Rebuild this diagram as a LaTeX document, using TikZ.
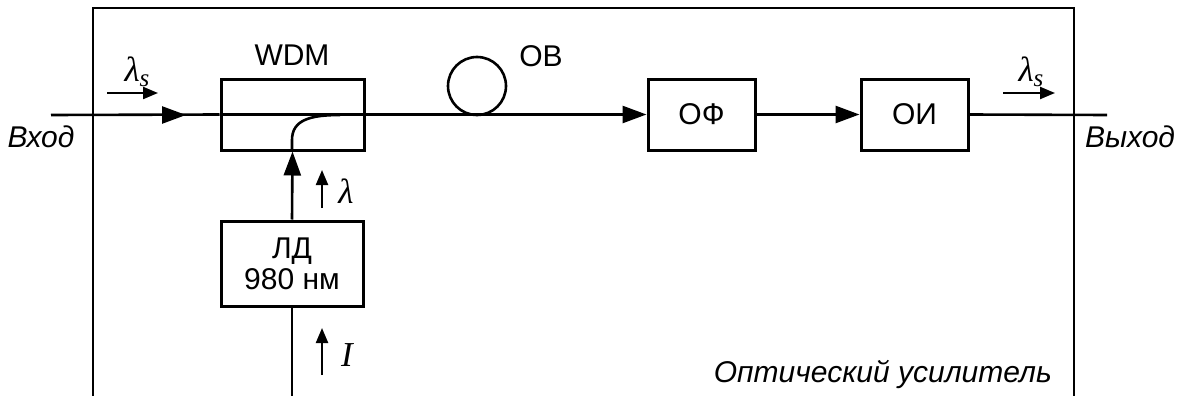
\documentclass[tikz,border=0pt]{standalone}
\usepackage{fontspec}
\setmainfont{Liberation Sans}
\newfontfamily\tms{Liberation Serif}
\usetikzlibrary{arrows.meta}
\tikzset{
  blk/.style={draw, line width=3pt, minimum width=143pt, minimum height=71pt, inner sep=0pt, font=\fontsize{30}{34}\selectfont},
  fib/.style={line width=2.6pt},
  frm/.style={line width=1.8pt},
  big/.style={fib, -{Triangle[length=24pt,width=17pt]}},
  sml/.style={line width=2.2pt, -{Triangle[length=15pt,width=12pt]}},
  lbl/.style={inner sep=0pt, font=\fontsize{30}{34}\selectfont},
  ilbl/.style={inner sep=0pt, font=\fontsize{30}{34}\selectfont\itshape},
  gr/.style={inner sep=0pt, font=\fontsize{35}{38}\selectfont\tms\itshape}
}
\newcommand{\lams}{λ\raisebox{-0.3ex}{\fontsize{25}{26}\selectfont s}}
\begin{document}
\begin{tikzpicture}[x=1pt,y=-1pt]
\useasboundingbox (0,0) rectangle (1183,396);
% frame
\coordinate (fTL) at (93,8);
\coordinate (fTR) at (1074,8);
\coordinate (fBL) at (93,396);
\coordinate (fBR) at (1074,396);
\draw[frm] (fBL) -- (fTL) -- (fTR) -- (fBR);
% blocks
\node[blk, minimum width=143pt] (wdm) at (292.5,114.5) {};
\node[blk, minimum width=107pt] (of) at (701.5,114.5) {ОФ};
\node[blk, minimum width=107pt] (oi) at (914.5,114.5) {ОИ};
\node[blk, minimum width=142pt, minimum height=85pt, align=center] (ld) at (292,263.5) {ЛД\\[-3pt]980 нм};
\node[lbl] (wdml) at (292,55) {WDM};
% fiber coil
\node[draw, circle, line width=2.6pt, minimum size=58pt, inner sep=0pt] (ob) at (477,86) {};
\node[lbl] (obl) at (541,56) {ОВ};
% main line
\coordinate (in) at (51,115);
\coordinate (inA) at (186,115);
\coordinate (out) at (1107,115);
\draw[fib] (in) -- (wdm.west);
\draw[big] (in) -- (inA);
\draw[fib] (wdm.west) -- (wdm.east);
\draw[big] (wdm.east) -- (of.west);
\draw[big] (of.east) -- (oi.west);
\draw[fib] (oi.east) -- (out);
% coupler curve
\coordinate (cB) at (292,150);
\coordinate (cE) at (340,115);
\draw[fib] (cB) -- (292,140) .. controls (292,120) and (310,115) .. (cE);
% pump
\draw[big] (ld.north) -- (wdm.south);
\coordinate (cur) at (292,396);
\draw[fib] (cur) -- (ld.south);
% small arrows
\coordinate (a1s) at (107,93); \coordinate (a1e) at (158,93);
\draw[sml] (a1s) -- (a1e);
\node[gr] (l1) at (137,72) {\lams};
\coordinate (a2s) at (1003,93); \coordinate (a2e) at (1055,93);
\draw[sml] (a2s) -- (a2e);
\node[gr] (l2) at (1031,72) {\lams};
\coordinate (a3s) at (322,208); \coordinate (a3e) at (322,170);
\draw[sml] (a3s) -- (a3e);
\node[gr] (l3) at (346,191) {λ};
\coordinate (a4s) at (322,375); \coordinate (a4e) at (322,328);
\draw[sml] (a4s) -- (a4e);
\node[gr] (l4) at (347,355) {I};
% labels
\node[ilbl] (inl) at (41,137) {Вход};
\node[ilbl] (outl) at (1130,137) {Выход};
\node[ilbl, anchor=east] (amp) at (1052,375) {Оптический усилитель};
\end{tikzpicture}
\end{document}
